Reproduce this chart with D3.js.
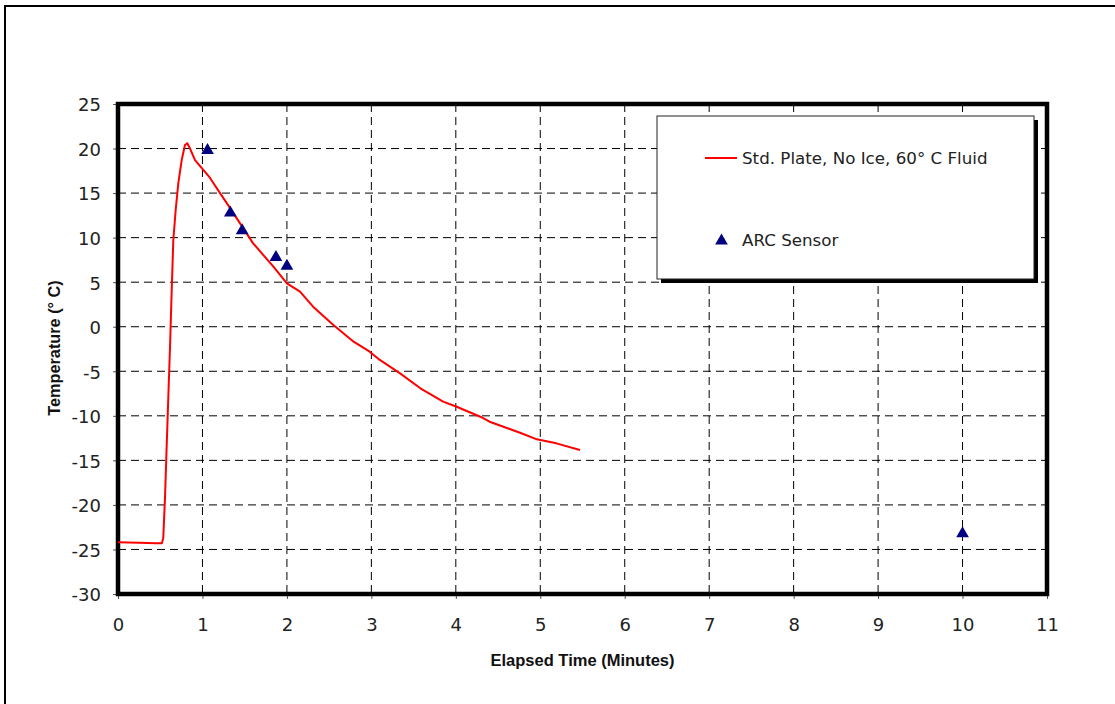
<!DOCTYPE html>
<html>
<head>
<meta charset="utf-8">
<script src="https://cdn.jsdelivr.net/npm/d3@7"></script>
<style>
  html, body { margin: 0; padding: 0; background: #fff; }
  svg { display: block; }
</style>
</head>
<body>
<svg id="chart" width="1115" height="704"></svg>
<script>
// ---- data ----
const curveTimes = [0, 0.25, 0.45, 0.52, 0.536, 0.557, 0.576, 0.596, 0.616, 0.636, 0.655, 0.683, 0.714, 0.754, 0.793, 0.82, 0.853, 0.912, 1.01, 1.09, 1.208, 1.29, 1.445, 1.60, 1.84, 2.0, 2.155, 2.31, 2.55, 2.79, 2.98, 3.10, 3.34, 3.58, 3.85, 4.01, 4.29, 4.40, 4.76, 4.96, 5.19, 5.47];
const curveTemps = [-24.2, -24.25, -24.3, -24.3, -23.7, -19.1, -13.5, -7.85, -2.24, 4.12, 9.73, 13.1, 16.1, 18.7, 20.4, 20.6, 20.0, 18.7, 17.6, 16.7, 15.0, 13.85, 11.6, 9.36, 6.74, 4.87, 3.93, 2.25, 0.19, -1.68, -2.80, -3.73, -5.23, -6.91, -8.41, -8.98, -10.1, -10.66, -11.9, -12.64, -13.09, -13.84];
const sensorTimes = [1.06, 1.33, 1.47, 1.87, 2.0, 10.0];
const sensorTemps = [20, 13, 11, 8, 7, -23];
const xTicks = [0, 1, 2, 3, 4, 5, 6, 7, 8, 9, 10, 11];
const yTicks = [-30, -25, -20, -15, -10, -5, 0, 5, 10, 15, 20, 25];
const seriesNames = ["Std. Plate, No Ice, 60° C Fluid", "ARC Sensor"];
const xTitle = "Elapsed Time (Minutes)";
const yTitle = "Temperature (° C)";

// ---- layout ----
const svg = d3.select("#chart");
const x = d3.scaleLinear().domain([0, 11]).range([118, 1047]);
const y = d3.scaleLinear().domain([-30, 25]).range([594, 104]);
const fmt = d => String(d);

// outer frame
svg.append("rect").attr("x", 5).attr("y", 6).attr("width", 1300).attr("height", 900)
  .attr("fill", "none").attr("stroke", "#000").attr("stroke-width", 2);

// grid
const gGrid = svg.append("g");
gGrid.selectAll("line.v").data(xTicks.slice(1, -1)).join("line")
  .attr("x1", d => x(d)).attr("x2", d => x(d))
  .attr("y1", y(25)).attr("y2", y(-30))
  .attr("stroke", "#000").attr("stroke-width", 1).attr("stroke-dasharray", "8,5");
gGrid.selectAll("line.h").data(yTicks.slice(1, -1)).join("line")
  .attr("x1", x(0)).attr("x2", x(11))
  .attr("y1", d => y(d)).attr("y2", d => y(d))
  .attr("stroke", "#000").attr("stroke-width", 1).attr("stroke-dasharray", "8,5");

// axes
const xAxis = d3.axisBottom(x).tickValues(xTicks).tickFormat(fmt)
  .tickSizeInner(5).tickSizeOuter(0).tickPadding(19);
const yAxis = d3.axisLeft(y).tickValues(yTicks).tickFormat(fmt)
  .tickSizeInner(5).tickSizeOuter(0).tickPadding(12);
const gx = svg.append("g").attr("transform", `translate(0,${y(-30)})`).call(xAxis);
const gy = svg.append("g").attr("transform", `translate(${x(0)},0)`).call(yAxis);
[gx, gy].forEach(g => {
  g.select(".domain").remove();
  g.selectAll(".tick line").attr("stroke", "#555");
  g.selectAll(".tick text").attr("font-family", "DejaVu Sans").attr("font-size", 18).attr("fill", "#222");
});
gx.selectAll(".tick text").attr("y", 0).attr("dy", 0)
  .attr("transform", "translate(0,36.5)");
gy.selectAll(".tick text").attr("dy", "0.38em");

// plot border
svg.append("rect").attr("x", x(0)).attr("y", y(25))
  .attr("width", x(11) - x(0)).attr("height", y(-30) - y(25))
  .attr("fill", "none").attr("stroke", "#000").attr("stroke-width", 4.5);

// curve
const curveData = curveTimes.map((t, i) => [t, curveTemps[i]]);
svg.append("path").datum(curveData)
  .attr("d", d3.line().x(d => x(d[0])).y(d => y(d[1])))
  .attr("fill", "none").attr("stroke", "#ff0000").attr("stroke-width", 2)
  .attr("stroke-linejoin", "round");

// sensor markers
const triSize = 70;
const triR = Math.sqrt(triSize / (Math.sqrt(3) * 3));
const tri = d3.symbol().type(d3.symbolTriangle).size(triSize);
svg.append("g").selectAll("path").data(sensorTimes.map((t, i) => [t, sensorTemps[i]])).join("path")
  .attr("d", tri)
  .attr("transform", d => `translate(${x(d[0])},${y(d[1]) + triR / 2})`)
  .attr("fill", "#000080");

// legend
const lg = svg.append("g");
lg.append("rect").attr("x", 661).attr("y", 120).attr("width", 377).attr("height", 163).attr("fill", "#000");
lg.append("rect").attr("x", 657).attr("y", 116).attr("width", 377).attr("height", 163)
  .attr("fill", "#fff").attr("stroke", "#222").attr("stroke-width", 1);
lg.append("line").attr("x1", 705).attr("x2", 737).attr("y1", 158).attr("y2", 158)
  .attr("stroke", "#ff0000").attr("stroke-width", 2);
lg.append("path").attr("d", tri).attr("transform", `translate(721.5,${239 + triR / 2})`).attr("fill", "#000080");
lg.selectAll("text").data(seriesNames).join("text")
  .attr("x", 742).attr("y", (d, i) => i === 0 ? 164 : 245.5)
  .attr("font-family", "DejaVu Sans").attr("font-size", 16.7).attr("fill", "#222")
  .text(d => d);

// axis titles
svg.append("text").attr("x", 582.5).attr("y", 666)
  .attr("text-anchor", "middle").attr("font-family", "Liberation Sans").attr("font-weight", "bold")
  .attr("font-size", 16.5).attr("fill", "#111").text(xTitle);
svg.append("text").attr("transform", "translate(59.5,348) rotate(-90)")
  .attr("text-anchor", "middle").attr("font-family", "Liberation Sans").attr("font-weight", "bold")
  .attr("font-size", 16.3).attr("fill", "#111").text(yTitle);
</script>
</body>
</html>
